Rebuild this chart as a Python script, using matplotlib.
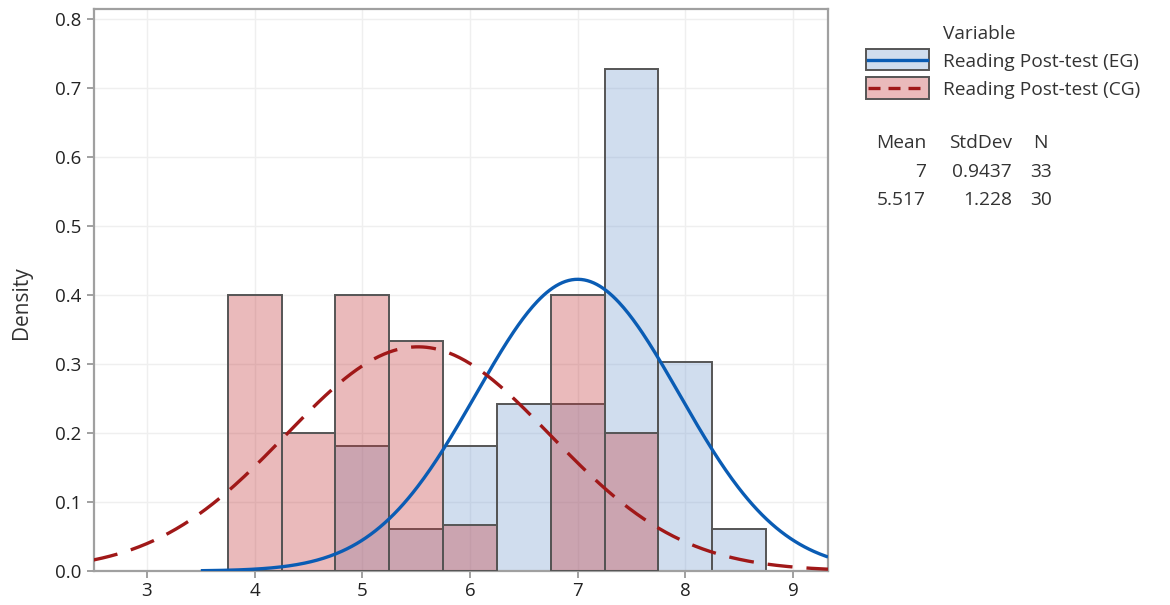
import numpy as np
import matplotlib
matplotlib.use("Agg")
import matplotlib.pyplot as plt
from matplotlib.patches import Rectangle
from matplotlib.lines import Line2D

# ---- data ----
bin_width = 0.5
eg_centers = [5.0, 5.5, 6.0, 6.5, 7.0, 7.5, 8.0, 8.5]
eg_density = [0.1818, 0.0606, 0.1818, 0.2424, 0.2424, 0.7273, 0.3030, 0.0606]
cg_centers = [4.0, 4.5, 5.0, 5.5, 6.0, 7.0, 7.5]
cg_density = [0.4000, 0.2000, 0.4000, 0.3333, 0.0667, 0.4000, 0.2000]
series_names = ["Reading Post-test (EG)", "Reading Post-test (CG)"]
means = [7.0, 5.517]
stdevs = [0.9437, 1.228]
counts = [33, 30]
mean_labels = ["7", "5.517"]
stdev_labels = ["0.9437", "1.228"]
x_ticks = [3, 4, 5, 6, 7, 8, 9]
y_ticks = [0.0, 0.1, 0.2, 0.3, 0.4, 0.5, 0.6, 0.7, 0.8]
curve_start = [3.5, 2.5]

plt.rcParams['font.family'] = ['Open Sans', 'DejaVu Sans']

W, H = 1170, 605
fig = plt.figure(figsize=(W / 100, H / 100), dpi=100)
ax = fig.add_axes([94 / W, 1 - 571 / H, (828 - 94) / W, (571 - 9) / H])

xmin, xmax = 2.508, 9.325
ymin, ymax = 0.0, 0.8145

blue_face = (121 / 255, 158 / 255, 209 / 255, 0.35)
red_face = (195 / 255, 58 / 255, 61 / 255, 0.35)
edge = '#555555'
blue_line = '#0a5cb4'
red_line = '#a01818'
txt = '#333333'

ax.bar(eg_centers, eg_density, width=bin_width, color=blue_face,
       edgecolor=edge, linewidth=1.4, zorder=2)
ax.bar(cg_centers, cg_density, width=bin_width, color=red_face,
       edgecolor=edge, linewidth=1.4, zorder=3)

def normal_pdf(x, m, s):
    return np.exp(-0.5 * ((x - m) / s) ** 2) / (s * np.sqrt(2 * np.pi))

x_eg = np.linspace(curve_start[0], xmax, 400)
ax.plot(x_eg, normal_pdf(x_eg, means[0], stdevs[0]), color=blue_line,
        linewidth=2.4, zorder=4, solid_capstyle='butt')
x_cg = np.linspace(curve_start[1], xmax, 400)
ax.plot(x_cg, normal_pdf(x_cg, means[1], stdevs[1]), color=red_line,
        linewidth=2.4, zorder=4, linestyle=(0, (7.5, 4.2)), dash_capstyle='butt')

ax.set_xlim(xmin, xmax)
ax.set_ylim(ymin, ymax)
ax.set_xticks(x_ticks)
ax.set_xticklabels([str(t) for t in x_ticks])
ax.set_yticks(y_ticks)
ax.set_yticklabels([f"{t:.1f}" for t in y_ticks])
ax.grid(True, color='#efefef', linewidth=1.0, zorder=0)
ax.set_axisbelow(True)
for sp in ax.spines.values():
    sp.set_color('#a0a0a0')
    sp.set_linewidth(1.6)
ax.tick_params(axis='both', colors='#909090', labelcolor='#222222',
               labelsize=13.5, length=5, width=1.2, direction='out')
ax.tick_params(axis='x', pad=3)
ax.tick_params(axis='y', pad=4)
ax.set_ylabel("Density", fontsize=15, color=txt)
ax.yaxis.set_label_coords(22 / W, 0.5, transform=fig.transFigure)
ax.yaxis.label.set_verticalalignment('center')

# ---- legend (drawn in figure pixel coordinates) ----
def fx(px):
    return px / W

def fy(py):
    return 1 - py / H

fs = 13.8
fig.text(fx(943), fy(34), "Variable", fontsize=fs, color=txt,
         ha='left', va='center')
handle_rows = [(49, 70), (77, 99)]
faces = [blue_face, red_face]
line_cols = [blue_line, red_line]
styles = ['-', (0, (3.6, 2.4))]
text_y = [62, 90]
for i in range(2):
    y0, y1 = handle_rows[i]
    fig.add_artist(Rectangle((fx(866), fy(y1)), fx(929) - fx(866), fy(y0) - fy(y1),
                             transform=fig.transFigure, facecolor=faces[i],
                             edgecolor=edge, linewidth=1.4))
    ym = fy((y0 + y1) / 2)
    fig.add_artist(Line2D([fx(868), fx(927)], [ym, ym], transform=fig.transFigure,
                          color=line_cols[i], linewidth=2.4, linestyle=styles[i],
                          dash_capstyle='butt'))
    fig.text(fx(943), fy(text_y[i]), series_names[i], fontsize=fs,
             color=txt, ha='left', va='center')

fig.text(fx(926), fy(143), "Mean", fontsize=fs, color=txt, ha='right', va='center')
fig.text(fx(1012), fy(143), "StdDev", fontsize=fs, color=txt, ha='right', va='center')
fig.text(fx(1040), fy(143), "N", fontsize=fs, color=txt, ha='center', va='center')
row_y = [172, 200]
for i in range(2):
    fig.text(fx(926), fy(row_y[i]), mean_labels[i], fontsize=fs, color=txt,
             ha='right', va='center')
    fig.text(fx(1012), fy(row_y[i]), stdev_labels[i], fontsize=fs, color=txt,
             ha='right', va='center')
    fig.text(fx(1041), fy(row_y[i]), str(counts[i]), fontsize=fs, color=txt,
             ha='center', va='center')

fig.savefig("out.png", dpi=100)
